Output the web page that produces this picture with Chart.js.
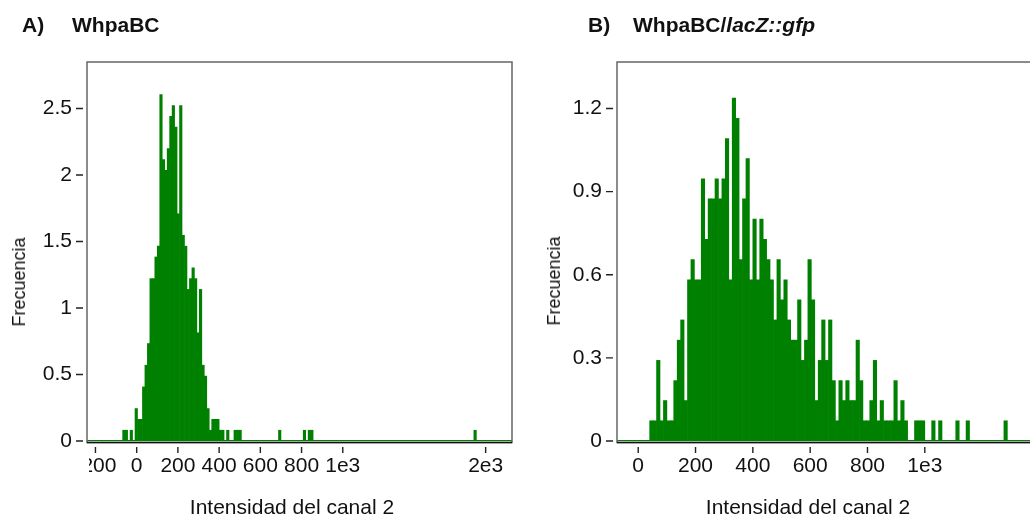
<!DOCTYPE html>
<html>
<head>
<meta charset="utf-8">
<script src="https://cdn.jsdelivr.net/npm/chart.js@4.4.1/dist/chart.umd.min.js"></script>
<style>
  html, body { margin: 0; padding: 0; background: #fff; }
  body { width: 1030px; height: 516px; overflow: hidden; position: relative;
         font-family: "Liberation Sans", Arial, sans-serif; color: #111; }
  .panel { position: absolute; top: 0; }
  .label { position: absolute; white-space: nowrap; line-height: 1; }
  .head { font-weight: bold; font-size: 21px; top: 14px; }
  .ytitle { font-size: 18px; transform: translate(-50%, -50%) rotate(-90deg); }
  .xtitle { font-size: 21px; top: 496px; transform: translateX(-50%); }
</style>
</head>
<body>
<div class="panel" style="left:0;width:520px;height:516px"><canvas id="chartA" width="520" height="516"></canvas></div>
<div class="panel" style="left:530px;width:510px;height:516px"><canvas id="chartB" width="510" height="516"></canvas></div>

<div class="label head" style="left:22px">A)</div>
<div class="label head" style="left:72px">WhpaBC</div>
<div class="label head" style="left:588px">B)</div>
<div class="label head" style="left:633px">WhpaBC/<span style="font-style:italic">lacZ::gfp</span></div>

<div class="label ytitle" style="left:19px;top:282px">Frecuencia</div>
<div class="label ytitle" style="left:554px;top:281px">Frecuencia</div>
<div class="label xtitle" style="left:292px">Intensidad del canal 2</div>
<div class="label xtitle" style="left:808px">Intensidad del canal 2</div>

<script>
// histogram bins are uniform in the displayed axis units
const binWidth = 12;
const binStartA = -80;
const binStartB = 40;

// Frecuencia per bin, panel A (WhpaBC)
const freqA = [
  0, 0.081, 0.081, 0, 0.081, 0, 0.244, 0.163, 0.163, 0.407,
  0.570, 0.733, 1.221, 1.221, 1.384, 1.465, 2.605, 2.116, 2.035, 2.198,
  2.442, 2.523, 2.361, 1.709, 2.523, 1.547, 1.465, 1.140, 1.221, 1.302,
  1.221, 0.814, 1.140, 0.570, 0.488, 0.244, 0.081, 0.163, 0.163, 0.163,
  0.081, 0.081, 0, 0.081, 0, 0, 0.081, 0.081, 0.081, 0,
  0, 0, 0, 0, 0, 0, 0, 0, 0, 0,
  0, 0, 0, 0, 0.081, 0, 0, 0, 0, 0,
  0, 0, 0, 0, 0.081, 0, 0.081, 0.081, 0, 0,
  0, 0, 0, 0, 0, 0, 0, 0, 0, 0,
  0, 0, 0, 0, 0, 0, 0, 0, 0, 0,
  0, 0, 0, 0, 0, 0, 0, 0, 0, 0,
  0, 0, 0, 0, 0, 0, 0, 0, 0, 0,
  0, 0, 0, 0, 0, 0, 0, 0, 0, 0,
  0, 0, 0, 0, 0, 0, 0, 0, 0, 0,
  0, 0, 0, 0.081
];

// Frecuencia per bin, panel B (WhpaBC/lacZ::gfp)
const freqB = [
  0.073, 0.073, 0.291, 0.073, 0.146, 0.073, 0.073, 0.218, 0.364, 0.437,
  0.146, 0.582, 0.655, 0.582, 0.582, 0.946, 0.728, 0.874, 0.874, 0.946,
  0.874, 0.946, 1.092, 0.582, 1.238, 1.165, 0.655, 0.874, 1.019, 0.582,
  0.801, 0.582, 0.801, 0.728, 0.655, 0.582, 0.437, 0.655, 0.510, 0.582,
  0.437, 0.364, 0.364, 0.510, 0.291, 0.364, 0.655, 0.510, 0.146, 0.291,
  0.437, 0.291, 0.437, 0.218, 0.073, 0.218, 0.146, 0.218, 0.146, 0.146,
  0.364, 0.218, 0.073, 0.073, 0.146, 0.291, 0.073, 0.146, 0.073, 0.073,
  0.073, 0.218, 0.073, 0.146, 0.073, 0, 0, 0.073, 0.073, 0.073,
  0, 0, 0.073, 0, 0.073, 0, 0, 0, 0, 0.073,
  0, 0, 0.073, 0, 0, 0, 0, 0, 0, 0,
  0, 0, 0, 0.073
];

const xTicksA = [-200, 0, 200, 400, 600, 800, 1000, 2000];
const xLabelsA = ["-200", "0", "200", "400", "600", "800", "1e3", "2e3"];
const xTicksB = [0, 200, 400, 600, 800, 1000];
const xLabelsB = ["0", "200", "400", "600", "800", "1e3"];
const yTicksA = [0, 0.5, 1, 1.5, 2, 2.5];
const yTicksB = [0, 0.3, 0.6, 0.9, 1.2];

const GREEN = "#008000";
const FONT = "'Liberation Sans', Arial, sans-serif";

// axis is linear up to 1000 and logarithmic above (same slope at the join)
function linlog(v) {
  return v <= 1000 ? v : 1000 * (1 + Math.log(v / 1000));
}

function histogram(freq, start) {
  return freq.map((f, i) => ({ x: start + (i + 0.5) * binWidth, y: f }));
}

// box around the plot + outward tick marks with a small gap (lattice look)
const frame = {
  id: "frame",
  afterDraw(chart, args, opts) {
    const { ctx, chartArea: a, scales } = chart;
    ctx.save();
    if (opts.clipLeft) {
      ctx.fillStyle = "#fff";
      ctx.fillRect(0, a.bottom + 14, opts.clipLeft, 40);
    }
    ctx.strokeStyle = "#222";
    ctx.lineWidth = 1.4;
    ctx.beginPath();
    scales.x.ticks.forEach(t => {
      const px = scales.x.getPixelForValue(t.value);
      ctx.moveTo(px, a.bottom + 6);
      ctx.lineTo(px, a.bottom + 12);
    });
    scales.y.ticks.forEach(t => {
      const py = scales.y.getPixelForValue(t.value);
      ctx.moveTo(a.left - 11, py);
      ctx.lineTo(a.left - 4, py);
    });
    ctx.stroke();
    ctx.strokeStyle = "#666";
    ctx.lineWidth = 1.5;
    ctx.strokeRect(a.left, a.top, a.right - a.left, a.bottom - a.top + 1.5);
    ctx.strokeStyle = "#111";
    ctx.beginPath();
    ctx.moveTo(a.left, a.bottom + 1.5);
    ctx.lineTo(a.right, a.bottom + 1.5);
    ctx.stroke();
    ctx.restore();
  }
};

function makeChart(id, freq, start, xTicks, xLabels, yTicks, xMin, xMax, yMax, padRight, clipLeft) {
  const ctx = document.getElementById(id).getContext("2d");
  return new Chart(ctx, {
    type: "bar",
    data: {
      datasets: [
        {
          type: "line",
          data: [{ x: xMin, y: 0 }, { x: xMax, y: 0 }],
          borderColor: GREEN,
          borderWidth: 2,
          pointRadius: 0,
          order: 0
        },
        {
          data: histogram(freq, start),
          backgroundColor: GREEN,
          borderWidth: 0,
          barPercentage: 1,
          categoryPercentage: 1,
          order: 1
        }
      ]
    },
    options: {
      responsive: false,
      animation: false,
      layout: { padding: { top: 62, right: padRight, left: 0, bottom: 0 } },
      plugins: {
        legend: { display: false },
        tooltip: { enabled: false },
        frame: { clipLeft: clipLeft }
      },
      scales: {
        x: {
          type: "linear",
          min: xMin,
          max: xMax,
          offset: false,
          afterBuildTicks: s => { s.ticks = xTicks.map(v => ({ value: linlog(v) })); },
          afterFit: s => { s.height = 75; },
          grid: { display: false, drawTicks: false },
          border: { display: false },
          ticks: {
            autoSkip: false,
            maxRotation: 0,
            padding: 13,
            color: "#111",
            font: { family: FONT, size: 21 },
            callback: (v, i) => xLabels[i]
          }
        },
        y: {
          min: 0,
          max: yMax,
          afterBuildTicks: s => { s.ticks = yTicks.map(v => ({ value: v })); },
          afterFit: s => { s.width = 87; },
          grid: { display: false, drawTicks: false },
          border: { display: false },
          ticks: {
            padding: 15,
            color: "#111",
            font: { family: FONT, size: 21 },
            callback: (v, i) => String(yTicks[i])
          }
        }
      }
    },
    plugins: [frame]
  });
}

makeChart("chartA", freqA, binStartA, xTicksA, xLabelsA, yTicksA, -241, 1821, 2.85, 8, 89);
makeChart("chartB", freqB, binStartB, xTicksB, xLabelsB, yTicksB, -74, 1381, 1.368, 6, 0);
</script>
</body>
</html>
